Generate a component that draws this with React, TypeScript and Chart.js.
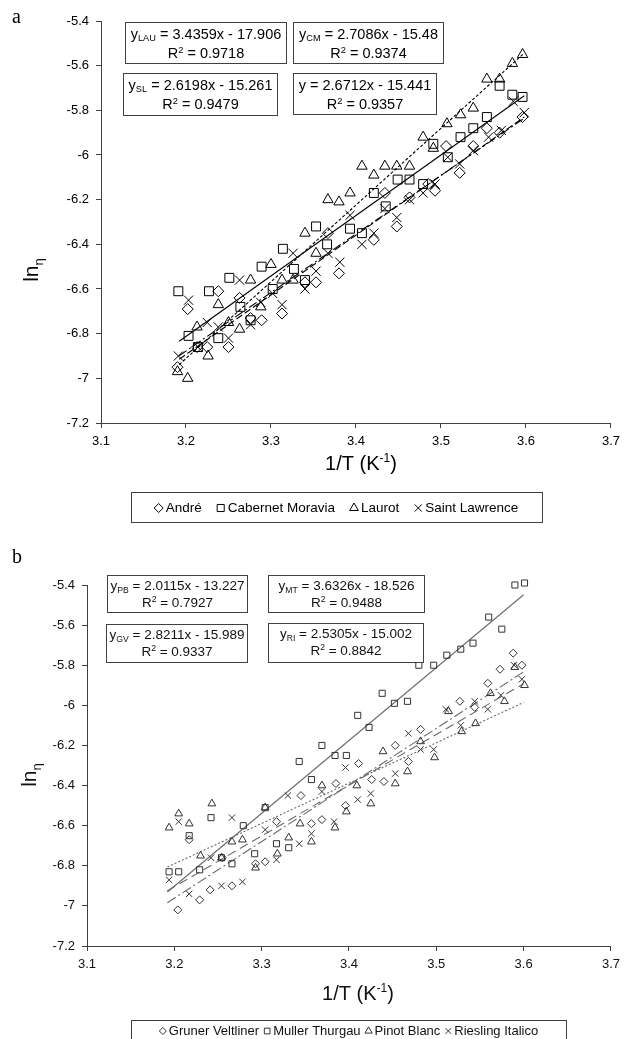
import React, { useEffect, useRef } from "react";
import { Chart, registerables } from "chart.js";
import { drawPoint } from "chart.js/helpers";

Chart.register(...registerables);

// ---------- shared ticks ----------
const xTickValues = [3.1, 3.2, 3.3, 3.4, 3.5, 3.6, 3.7];
const yTickValues = [-7.2, -7, -6.8, -6.6, -6.4, -6.2, -6, -5.8, -5.6, -5.4];

// ---------- panel a data ----------
const aNames = ["André", "Cabernet Moravia", "Laurot", "Saint Lawrence"];
const andre = [
  [3.19, -6.95], [3.202, -6.69], [3.213, -6.86], [3.225, -6.86], [3.238, -6.61], [3.25, -6.86],
  [3.263, -6.64], [3.276, -6.73], [3.289, -6.74], [3.313, -6.71], [3.34, -6.57], [3.353, -6.57],
  [3.367, -6.35], [3.38, -6.53], [3.421, -6.38], [3.434, -6.17], [3.448, -6.32], [3.463, -6.19],
  [3.485, -6.13], [3.493, -6.16], [3.506, -5.96], [3.522, -6.08], [3.538, -5.96], [3.554, -5.88],
  [3.569, -5.9], [3.596, -5.83],
];
const cabernetMoravia = [
  [3.191, -6.61], [3.203, -6.81], [3.214, -6.86], [3.227, -6.61], [3.238, -6.82], [3.251, -6.55],
  [3.264, -6.68], [3.276, -6.74], [3.289, -6.5], [3.302, -6.6], [3.314, -6.42], [3.327, -6.51],
  [3.34, -6.56], [3.353, -6.32], [3.366, -6.4], [3.393, -6.33], [3.407, -6.35], [3.421, -6.17],
  [3.435, -6.23], [3.449, -6.11], [3.463, -6.11], [3.479, -6.13], [3.491, -5.95], [3.508, -6.01],
  [3.523, -5.92], [3.538, -5.88], [3.554, -5.83], [3.569, -5.69], [3.584, -5.73], [3.596, -5.74],
];
const laurot = [
  [3.19, -6.97], [3.202, -7.0], [3.213, -6.77], [3.226, -6.9], [3.238, -6.67], [3.25, -6.75],
  [3.263, -6.78], [3.276, -6.56], [3.288, -6.68], [3.3, -6.49], [3.313, -6.56], [3.326, -6.56],
  [3.34, -6.35], [3.353, -6.44], [3.367, -6.2], [3.38, -6.21], [3.393, -6.17], [3.407, -6.05],
  [3.421, -6.09], [3.434, -6.05], [3.448, -6.05], [3.463, -6.05], [3.479, -5.92], [3.491, -5.97],
  [3.507, -5.86], [3.523, -5.82], [3.538, -5.79], [3.554, -5.66], [3.569, -5.66], [3.584, -5.59],
  [3.596, -5.55],
];
const saintLawrence = [
  [3.191, -6.9], [3.203, -6.65], [3.214, -6.86], [3.225, -6.75], [3.238, -6.77], [3.25, -6.82],
  [3.263, -6.56], [3.276, -6.76], [3.288, -6.66], [3.302, -6.62], [3.313, -6.67], [3.326, -6.44],
  [3.34, -6.6], [3.353, -6.52], [3.367, -6.44], [3.381, -6.48], [3.393, -6.27], [3.407, -6.4],
  [3.421, -6.35], [3.434, -6.24], [3.448, -6.28], [3.463, -6.2], [3.479, -6.17], [3.493, -6.13],
  [3.508, -6.01], [3.522, -6.04], [3.538, -5.98], [3.556, -5.92], [3.571, -5.89], [3.585, -5.76],
  [3.598, -5.81],
];
const aSlopes = [2.6712, 2.7086, 3.4359, 2.6198];
const aIntercepts = [-15.441, -15.48, -17.906, -15.261];
const aR2 = [0.9357, 0.9374, 0.9718, 0.9479];
const aSubscripts = ["", "CM", "LAU", "SL"];
const aTrendRange = [3.192, 3.598];

// ---------- panel b data ----------
const bNames = ["Gruner Veltliner", "Muller Thurgau", "Pinot Blanc", "Riesling Italico"];
const grunerVeltliner = [
  [3.204, -7.02], [3.217, -6.67], [3.229, -6.97], [3.241, -6.92], [3.255, -6.76], [3.266, -6.9],
  [3.293, -6.79], [3.304, -6.78], [3.317, -6.58], [3.345, -6.45], [3.357, -6.59], [3.369, -6.57],
  [3.385, -6.39], [3.396, -6.5], [3.411, -6.29], [3.426, -6.37], [3.44, -6.38], [3.453, -6.2],
  [3.468, -6.28], [3.482, -6.12], [3.527, -5.98], [3.544, -6.01], [3.559, -5.89], [3.573, -5.82],
  [3.588, -5.74], [3.598, -5.8],
];
const mullerThurgau = [
  [3.194, -6.83], [3.205, -6.83], [3.217, -6.65], [3.229, -6.82], [3.242, -6.56], [3.254, -6.76],
  [3.266, -6.79], [3.279, -6.6], [3.292, -6.74], [3.304, -6.51], [3.317, -6.69], [3.331, -6.71],
  [3.343, -6.28], [3.357, -6.37], [3.369, -6.2], [3.384, -6.25], [3.397, -6.25], [3.41, -6.05],
  [3.423, -6.11], [3.438, -5.94], [3.452, -5.99], [3.467, -5.98], [3.48, -5.8], [3.497, -5.8],
  [3.512, -5.75], [3.528, -5.72], [3.542, -5.69], [3.56, -5.56], [3.575, -5.62], [3.59, -5.4],
  [3.601, -5.39],
];
const pinotBlanc = [
  [3.194, -6.61], [3.205, -6.54], [3.217, -6.59], [3.23, -6.75], [3.243, -6.49], [3.254, -6.76],
  [3.266, -6.68], [3.278, -6.67], [3.293, -6.81], [3.304, -6.51], [3.318, -6.74], [3.331, -6.66],
  [3.344, -6.59], [3.357, -6.68], [3.369, -6.4], [3.384, -6.61], [3.397, -6.53], [3.409, -6.4],
  [3.425, -6.49], [3.439, -6.23], [3.453, -6.39], [3.467, -6.33], [3.482, -6.18], [3.498, -6.26],
  [3.514, -6.03], [3.529, -6.13], [3.545, -6.09], [3.562, -5.94], [3.578, -5.98], [3.59, -5.81],
  [3.601, -5.9],
];
const rieslingItalico = [
  [3.194, -6.87], [3.205, -6.58], [3.217, -6.94], [3.242, -6.76], [3.254, -6.9], [3.266, -6.56],
  [3.278, -6.88], [3.304, -6.62], [3.317, -6.77], [3.33, -6.45], [3.343, -6.69], [3.357, -6.64],
  [3.369, -6.43], [3.383, -6.58], [3.396, -6.31], [3.41, -6.47], [3.425, -6.44], [3.453, -6.34],
  [3.468, -6.14], [3.482, -6.22], [3.497, -6.22], [3.511, -6.02], [3.528, -6.1], [3.544, -5.98],
  [3.559, -6.02], [3.574, -5.95], [3.589, -5.8], [3.598, -5.87],
];
const bSlopes = [2.8211, 3.6326, 2.0115, 2.5305];
const bIntercepts = [-15.989, -18.526, -13.227, -15.002];
const bR2 = [0.9337, 0.9488, 0.7927, 0.8842];
const bSubscripts = ["GV", "MT", "PB", "RI"];
const bTrendRange = [3.192, 3.6];

// ---------- styling / layout ----------
const SANS = '"Liberation Sans", Arial, Helvetica, sans-serif';
const SERIF = '"Liberation Serif", "Times New Roman", serif';
const pointStyles = ["rectRot", "rect", "triangle", "crossRot"];

type Run = { t: string; s: number; dy: number };

function measureRuns(ctx: CanvasRenderingContext2D, runs: Run[]) {
  let w = 0;
  for (const r of runs) {
    ctx.font = `${r.s}px ${SANS}`;
    w += ctx.measureText(r.t).width;
  }
  return w;
}
function drawRuns(ctx: CanvasRenderingContext2D, runs: Run[], x: number, baseline: number) {
  for (const r of runs) {
    ctx.font = `${r.s}px ${SANS}`;
    ctx.fillText(r.t, x, baseline + r.dy);
    x += ctx.measureText(r.t).width;
  }
}
function eqRuns(sub: string, slope: number, intercept: number, size: number): Run[] {
  const runs: Run[] = [{ t: "y", s: size, dy: 0 }];
  if (sub) runs.push({ t: sub, s: size * 0.64, dy: size * 0.2 });
  runs.push({ t: ` = ${slope}x - ${Math.abs(intercept)}`, s: size, dy: 0 });
  return runs;
}
function r2Runs(r2: number, size: number): Run[] {
  return [
    { t: "R", s: size, dy: 0 },
    { t: "2", s: size * 0.64, dy: -size * 0.36 },
    { t: ` = ${r2}`, s: size, dy: 0 },
  ];
}

type PanelCfg = {
  letter: string; letterX: number; letterY: number;
  canvasH: number; padTop: number; padRight: number; yAxisW: number; xAxisH: number;
  boxes: { x: number; y: number; w: number; h: number }[];
  eqFont: number; line1: number; line2: number;
  subs: string[]; slopes: number[]; intercepts: number[]; r2: number[];
  yTitleX: number; yTitleY: number; yTitleFont: number;
  xTitleX: number; xTitleY: number; xTitleFont: number;
  legend: { l: number; t: number; r: number; b: number; textY: number; font: number; mGap: number; iGap: number; radii: number[] };
  markerColor: string; lineColor: string; axisColor: string; textColor: string;
  radii: number[]; dashes: number[][]; lineWidth: number;
};

function decorPlugin(cfg: PanelCfg) {
  return {
    id: "decor_" + cfg.letter,
    afterDraw(chart: any) {
      const ctx: CanvasRenderingContext2D = chart.ctx;
      ctx.save();
      ctx.textAlign = "left";
      ctx.textBaseline = "alphabetic";
      // panel letter
      ctx.fillStyle = "#000";
      ctx.font = `20px ${SERIF}`;
      ctx.fillText(cfg.letter, cfg.letterX, cfg.letterY);

      // equation boxes
      cfg.boxes.forEach((b, i) => {
        ctx.fillStyle = "#fff";
        ctx.fillRect(b.x, b.y, b.w, b.h);
        ctx.strokeStyle = cfg.axisColor;
        ctx.lineWidth = 1;
        ctx.strokeRect(b.x + 0.5, b.y + 0.5, b.w, b.h);
        ctx.fillStyle = cfg.textColor;
        const l1 = eqRuns(cfg.subs[i], cfg.slopes[i], cfg.intercepts[i], cfg.eqFont);
        const w1 = measureRuns(ctx, l1);
        drawRuns(ctx, l1, b.x + (b.w - w1) / 2 + 0.5, b.y + cfg.line1);
        const l2 = r2Runs(cfg.r2[i], cfg.eqFont);
        const w2 = measureRuns(ctx, l2);
        drawRuns(ctx, l2, b.x + (b.w - w2) / 2 + 0.5, b.y + cfg.line2);
      });

      // y title: ln with subscript eta, rotated
      ctx.fillStyle = cfg.textColor;
      ctx.save();
      ctx.translate(cfg.yTitleX, cfg.yTitleY);
      ctx.rotate(-Math.PI / 2);
      const yRuns: Run[] = [
        { t: "ln", s: cfg.yTitleFont, dy: 0 },
        { t: "η", s: cfg.yTitleFont * 0.62, dy: cfg.yTitleFont * 0.25 },
      ];
      const yw = measureRuns(ctx, yRuns);
      drawRuns(ctx, yRuns, -yw / 2, 0);
      ctx.restore();

      // x title: 1/T (K^-1)
      const xRuns: Run[] = [
        { t: "1/T (K", s: cfg.xTitleFont, dy: 0 },
        { t: "-1", s: cfg.xTitleFont * 0.6, dy: -cfg.xTitleFont * 0.38 },
        { t: ")", s: cfg.xTitleFont, dy: 0 },
      ];
      const xw = measureRuns(ctx, xRuns);
      drawRuns(ctx, xRuns, cfg.xTitleX - xw / 2, cfg.xTitleY);

      // legend
      const L = cfg.legend;
      ctx.strokeStyle = cfg.axisColor;
      ctx.lineWidth = 1;
      ctx.strokeRect(L.l + 0.5, L.t + 0.5, L.r - L.l, L.b - L.t);
      const items = chart.data.datasets.filter((d: any) => !d.trend);
      ctx.font = `${L.font}px ${SANS}`;
      const widths = items.map((d: any) => ctx.measureText(d.label).width);
      const half = 4;
      const total = half + widths.reduce((a: number, w: number) => a + L.mGap + w, 0) + L.iGap * (items.length - 1);
      let x = (L.l + L.r) / 2 - total / 2 + half;
      items.forEach((d: any, i: number) => {
        ctx.strokeStyle = d.pointBorderColor;
        ctx.fillStyle = "rgba(0,0,0,0)";
        ctx.lineWidth = 1;
        drawPoint(ctx, { pointStyle: d.pointStyle, radius: L.radii[i], rotation: 0, borderWidth: 1 } as any, x, L.textY);
        ctx.fillStyle = cfg.textColor;
        ctx.font = `${L.font}px ${SANS}`;
        ctx.textBaseline = "middle";
        ctx.fillText(d.label, x + L.mGap, L.textY + 0.5);
        ctx.textBaseline = "alphabetic";
        x += L.mGap + widths[i] + L.iGap;
      });
      ctx.restore();
    },
  };
}

function buildDatasets(series: number[][][], names: string[], cfg: PanelCfg, range: number[]) {
  const trends = cfg.slopes.map((m, i) => ({
    label: names[i] + " trend",
    trend: true,
    data: range.map((x) => ({ x, y: m * x + cfg.intercepts[i] })),
    showLine: true,
    pointRadius: 0,
    borderColor: cfg.lineColor,
    borderWidth: cfg.lineWidth,
    borderDash: cfg.dashes[i],
    fill: false,
    clip: false,
  }));
  const pts = series.map((s, i) => ({
    label: names[i],
    data: s.map(([x, y]) => ({ x, y })),
    pointStyle: pointStyles[i],
    pointRadius: cfg.radii[i],
    pointBorderColor: cfg.markerColor,
    pointBackgroundColor: "rgba(0,0,0,0)",
    pointBorderWidth: 1,
    showLine: false,
    clip: false,
  }));
  return [...pts, ...trends];
}

function axisOptions(cfg: PanelCfg) {
  const tickFont = { family: SANS, size: 13 };
  const fmt = (v: any) => String(Math.round(Number(v) * 10) / 10);
  return {
    x: {
      type: "linear",
      min: 3.1,
      max: 3.7,
      afterBuildTicks: (s: any) => { s.ticks = xTickValues.map((value) => ({ value })); },
      afterFit: (s: any) => { s.height = cfg.xAxisH; },
      ticks: { callback: fmt, font: tickFont, color: cfg.textColor, padding: 6, maxRotation: 0, autoSkip: false },
      grid: { drawOnChartArea: false, drawTicks: true, tickLength: 5, color: cfg.axisColor },
      border: { color: cfg.axisColor, width: 1 },
    },
    y: {
      type: "linear",
      min: -7.2,
      max: -5.4,
      afterBuildTicks: (s: any) => { s.ticks = yTickValues.map((value) => ({ value })); },
      afterFit: (s: any) => { s.width = cfg.yAxisW; },
      ticks: { callback: fmt, font: tickFont, color: cfg.textColor, padding: 7, autoSkip: false },
      grid: { drawOnChartArea: false, drawTicks: true, tickLength: 5, color: cfg.axisColor },
      border: { color: cfg.axisColor, width: 1 },
    },
  };
}

const panelA: PanelCfg = {
  letter: "a", letterX: 12, letterY: 23,
  canvasH: 530, padTop: 21, padRight: 11, yAxisW: 101, xAxisH: 107,
  boxes: [
    { x: 293, y: 73, w: 143, h: 41 },
    { x: 293, y: 22, w: 150, h: 41 },
    { x: 125, y: 22, w: 161, h: 41 },
    { x: 123, y: 73, w: 154, h: 42 },
  ],
  eqFont: 14.5, line1: 16.5, line2: 36,
  subs: aSubscripts, slopes: aSlopes, intercepts: aIntercepts, r2: aR2,
  yTitleX: 38, yTitleY: 270, yTitleFont: 21,
  xTitleX: 361, xTitleY: 470, xTitleFont: 20,
  legend: { l: 131, t: 492, r: 542, b: 522, textY: 508, font: 13.5, mGap: 7, iGap: 19, radii: [4.5, 5, 5, 5] },
  markerColor: "#000", lineColor: "#000", axisColor: "#404040", textColor: "#000",
  radii: [5.5, 6.3, 6, 6.5], dashes: [[7, 3], [], [3, 2], [9, 3, 2, 3]], lineWidth: 1.1,
};

const panelB: PanelCfg = {
  letter: "b", letterX: 12, letterY: 33,
  canvasH: 509, padTop: 55, padRight: 13, yAxisW: 87, xAxisH: 93,
  boxes: [
    { x: 106, y: 94, w: 141, h: 38 },
    { x: 268, y: 45, w: 156, h: 37 },
    { x: 107, y: 45, w: 140, h: 37 },
    { x: 268, y: 93, w: 155, h: 39 },
  ],
  eqFont: 13.5, line1: 15, line2: 32,
  subs: bSubscripts, slopes: bSlopes, intercepts: bIntercepts, r2: bR2,
  yTitleX: 36, yTitleY: 245, yTitleFont: 21,
  xTitleX: 358, xTitleY: 470, xTitleFont: 20,
  legend: { l: 131, t: 490, r: 566, b: 530, textY: 501, font: 13, mGap: 6, iGap: 8, radii: [3.5, 4, 4.2, 4] },
  markerColor: "#333", lineColor: "#6a6a6a", axisColor: "#404040", textColor: "#111",
  radii: [4, 4.3, 4.5, 4.5], dashes: [[10, 3, 2, 3], [], [2, 2], [9, 5]], lineWidth: 1.1,
};

function Panel({ cfg, series, names, range, top }: { cfg: PanelCfg; series: number[][][]; names: string[]; range: number[]; top: number }) {
  const ref = useRef<HTMLCanvasElement | null>(null);
  useEffect(() => {
    if (!ref.current) return;
    const chart = new Chart(ref.current, {
      type: "scatter",
      data: { datasets: buildDatasets(series, names, cfg, range) as any },
      options: {
        animation: false,
        responsive: false,
        devicePixelRatio: 1,
        layout: { padding: { top: cfg.padTop, right: cfg.padRight, left: 0, bottom: 0 } },
        plugins: { legend: { display: false }, tooltip: { enabled: false } },
        scales: axisOptions(cfg) as any,
      },
      plugins: [decorPlugin(cfg)],
    });
    return () => chart.destroy();
  }, []);
  return (
    <canvas
      ref={ref}
      width={626}
      height={cfg.canvasH}
      style={{ position: "absolute", left: 0, top, width: 626, height: cfg.canvasH, display: "block" }}
    />
  );
}

export default function App() {
  return (
    <div style={{ position: "absolute", left: 0, top: 0, width: 626, height: 1039, background: "#fff", overflow: "hidden" }}>
      <Panel cfg={panelA} series={[andre, cabernetMoravia, laurot, saintLawrence]} names={aNames} range={aTrendRange} top={0} />
      <Panel cfg={panelB} series={[grunerVeltliner, mullerThurgau, pinotBlanc, rieslingItalico]} names={bNames} range={bTrendRange} top={530} />
    </div>
  );
}
